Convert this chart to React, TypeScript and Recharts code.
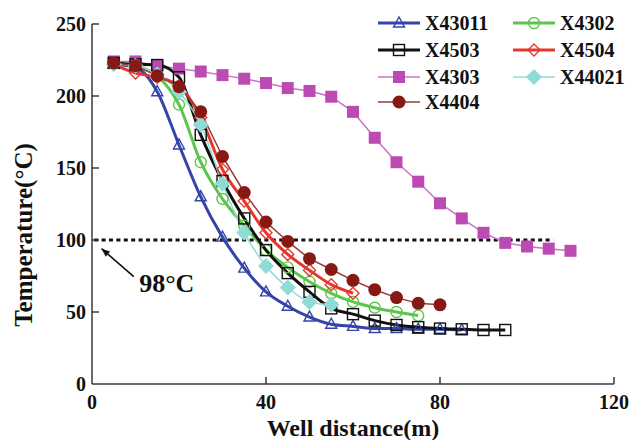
import React from "react";
import { Legend, Line, LineChart, ReferenceDot, ReferenceLine, XAxis, YAxis } from "recharts";

// distance from well (m), one marker every 5 m
const distance = [5, 10, 15, 20, 25, 30, 35, 40, 45, 50, 55, 60, 65, 70, 75, 80, 85, 90, 95, 100, 105, 110];

// temperatures (°C)
const x43011 = [222, 220, 203, 166, 130, 102, 80.5, 64, 54, 46.5, 41.5, 40, 38.5, 38.5, 38, 38, 37.5];
const x4503 = [223, 222, 221.5, 213, 173, 141, 115, 93, 77, 64, 52.5, 48.5, 44, 41, 39.5, 38.5, 38, 37.5, 37.5];
const x4303 = [224, 224, 221, 219, 217, 214.5, 212, 209, 205.5, 203.5, 199.5, 189, 171, 154, 140.5, 125.5, 115, 105, 98, 95.5, 94, 92.5];
const x4404 = [223, 221, 214, 206.5, 189, 158, 133, 112.5, 99, 87, 79.5, 72, 65.5, 60, 56, 55];
const x4302 = [223, 221, 214, 194, 154, 128.5, 110, 93, 81, 71, 63, 57, 53, 50, 47.5];
const x4504 = [222, 216, 213, 207, 185, 149, 127, 105, 90, 79, 69, 63];
const x44021 = [222, 221, 215, 203, 180, 139, 105, 82, 67, 57, 55];

const xTicks = [0, 40, 80, 120];
const yTicks = [0, 50, 100, 150, 200, 250];

const FONT = '"Liberation Serif", "Times New Roman", serif';
const AXIS = "#3a3a3a";

type Kind = "triangle" | "square" | "squareFilled" | "circle" | "circleFilled" | "diamond" | "diamondFilled";

// draw order = z order (last on top)
const series = [
  { name: "X4303", values: x4303, color: "#BB4BB3", line: "#CF6FC8", width: 1.5, curve: "linear", kind: "squareFilled" as Kind },
  { name: "X43011", values: x43011, color: "#3444A8", line: "#3444A8", width: 3, curve: "monotone", kind: "triangle" as Kind },
  { name: "X4302", values: x4302, color: "#5CC64C", line: "#5CC64C", width: 3, curve: "monotone", kind: "circle" as Kind },
  { name: "X4503", values: x4503, color: "#111111", line: "#111111", width: 3, curve: "monotone", kind: "square" as Kind },
  { name: "X4504", values: x4504, color: "#E5372C", line: "#E5372C", width: 3, curve: "monotone", kind: "diamond" as Kind },
  { name: "X44021", values: x44021, color: "#8EDCD5", line: "#8EDCD5", width: 1.5, curve: "monotone", kind: "diamondFilled" as Kind },
  { name: "X4404", values: x4404, color: "#861913", line: "#9A3A33", width: 1.5, curve: "linear", kind: "circleFilled" as Kind },
];

const legendCols = [
  ["X43011", "X4503", "X4303", "X4404"],
  ["X4302", "X4504", "X44021"],
];

const data = distance.map((d, i) => {
  const row: Record<string, number | undefined> = { d };
  series.forEach((s) => {
    row[s.name] = s.values[i];
  });
  return row;
});

function marker(kind: Kind, color: string, cx: number, cy: number, key?: string | number) {
  switch (kind) {
    case "triangle":
      return (
        <polygon
          key={key}
          points={`${cx},${cy - 6} ${cx - 5.5},${cy + 4} ${cx + 5.5},${cy + 4}`}
          fill="none"
          stroke={color}
          strokeWidth={1.4}
        />
      );
    case "square":
      return <rect key={key} x={cx - 5.5} y={cy - 5.5} width={11} height={11} fill="none" stroke={color} strokeWidth={1.4} />;
    case "squareFilled":
      return <rect key={key} x={cx - 6} y={cy - 6} width={12} height={12} fill={color} />;
    case "circle":
      return <circle key={key} cx={cx} cy={cy} r={5.5} fill="none" stroke={color} strokeWidth={1.4} />;
    case "circleFilled":
      return <circle key={key} cx={cx} cy={cy} r={6.5} fill={color} />;
    case "diamond":
      return (
        <polygon
          key={key}
          points={`${cx},${cy - 6} ${cx + 6},${cy} ${cx},${cy + 6} ${cx - 6},${cy}`}
          fill="none"
          stroke={color}
          strokeWidth={1.4}
        />
      );
    case "diamondFilled":
      return <polygon key={key} points={`${cx},${cy - 8} ${cx + 8},${cy} ${cx},${cy + 8} ${cx - 8},${cy}`} fill={color} />;
  }
}

function XTick({ x, y, payload }: any) {
  return (
    <g>
      {payload.value !== 0 && <line x1={x} y1={y} x2={x} y2={y - 7} stroke={AXIS} strokeWidth={1.5} />}
      <text x={x} y={y + 25} textAnchor="middle" fontFamily={FONT} fontWeight="bold" fontSize={20} fill="#111">
        {payload.value}
      </text>
    </g>
  );
}

function YTick({ x, y, payload }: any) {
  return (
    <g>
      {payload.value !== 0 && <line x1={x} y1={y} x2={x + 7} y2={y} stroke={AXIS} strokeWidth={1.5} />}
      <text x={x - 6} y={y + 7} textAnchor="end" fontFamily={FONT} fontWeight="bold" fontSize={20} fill="#111">
        {payload.value}
      </text>
    </g>
  );
}

function LegendBox() {
  const colX = [8, 143];
  const rowY = [23, 50, 77, 102];
  return (
    <svg width={260} height={115}>
      {legendCols.map((col, ci) =>
        col.map((name, ri) => {
          const s = series.find((v) => v.name === name)!;
          const x0 = colX[ci];
          const y = rowY[ri];
          return (
            <g key={name}>
              <line x1={x0} y1={y} x2={x0 + 42} y2={y} stroke={s.line} strokeWidth={s.width} />
              {marker(s.kind, s.color, x0 + 21, y)}
              <text x={x0 + 47} y={y} dominantBaseline="central" fontFamily={FONT} fontWeight="bold" fontSize={20} fill="#111">
                {name}
              </text>
            </g>
          );
        })
      )}
    </svg>
  );
}

function ArrowShape(props: any) {
  const { x1, y1, x2, y2 } = props;
  const ang = Math.atan2(y1 - y2, x1 - x2);
  const len = 9;
  const spread = 0.38;
  const p1 = `${x1 - len * Math.cos(ang - spread)},${y1 - len * Math.sin(ang - spread)}`;
  const p2 = `${x1 - len * Math.cos(ang + spread)},${y1 - len * Math.sin(ang + spread)}`;
  return (
    <g>
      <line x1={x1} y1={y1} x2={x2} y2={y2} stroke="#111" strokeWidth={1.6} />
      <polygon points={`${x1},${y1} ${p1} ${p2}`} fill="#111" />
    </g>
  );
}

function YTitle() {
  const cx = 23;
  const cy = 235;
  return (
    <text
      x={cx}
      y={cy}
      transform={`rotate(-90 ${cx} ${cy})`}
      textAnchor="middle"
      dominantBaseline="central"
      fontFamily={FONT}
      fontWeight="bold"
      fontSize={25}
      fill="#111"
    >
      Temperature(°C)
    </text>
  );
}

export default function App() {
  return (
    <div style={{ position: "absolute", left: 0, top: 0, width: 630, height: 440, background: "#fff" }}>
      <LineChart width={630} height={440} data={data} margin={{ top: 24, right: 16, left: 0, bottom: 0 }}>
        <XAxis
          type="number"
          dataKey="d"
          domain={[0, 120]}
          ticks={xTicks}
          tickSize={0}
          tickMargin={0}
          tickLine={false}
          height={56}
          axisLine={{ stroke: AXIS, strokeWidth: 1.5 }}
          tick={<XTick />}
          label={{
            value: "Well distance(m)",
            position: "insideBottom",
            offset: 4,
            style: { fontFamily: FONT, fontWeight: "bold", fontSize: 24, fill: "#111" },
          }}
        />
        <YAxis
          type="number"
          domain={[0, 250]}
          ticks={yTicks}
          tickSize={0}
          tickMargin={0}
          tickLine={false}
          width={92}
          axisLine={{ stroke: AXIS, strokeWidth: 1.5 }}
          tick={<YTick />}
          label={{ value: "Temperature(°C)", content: () => <YTitle /> }}
        />
        <ReferenceLine
          segment={[
            { x: 0.5, y: 100 },
            { x: 106, y: 100 },
          ]}
          stroke="#111"
          strokeWidth={3}
          strokeDasharray="4 3.4"
        />
        <ReferenceLine
          segment={[
            { x: 2.2, y: 94 },
            { x: 9.6, y: 74.5 },
          ]}
          shape={ArrowShape}
        />
        <ReferenceDot
          x={17.2}
          y={70.5}
          r={0}
          stroke="none"
          fill="none"
          label={{
            value: "98°C",
            position: "center",
            style: { fontFamily: FONT, fontWeight: "bold", fontSize: 26, fill: "#111" },
          }}
        />
        {series.map((s) => (
          <Line
            key={s.name}
            type={s.curve as any}
            dataKey={s.name}
            name={s.name}
            stroke={s.line}
            strokeWidth={s.width}
            dot={(p: any) =>
              p.cy == null || p.value == null ? <g key={p.index} /> : marker(s.kind, s.color, p.cx, p.cy, p.index)
            }
            activeDot={false}
            isAnimationActive={false}
          />
        ))}
        <Legend
          layout="vertical"
          align="center"
          verticalAlign="middle"
          content={() => <LegendBox />}
          wrapperStyle={{ position: "absolute", top: 0, left: 370, width: 260 }}
        />
      </LineChart>
    </div>
  );
}
